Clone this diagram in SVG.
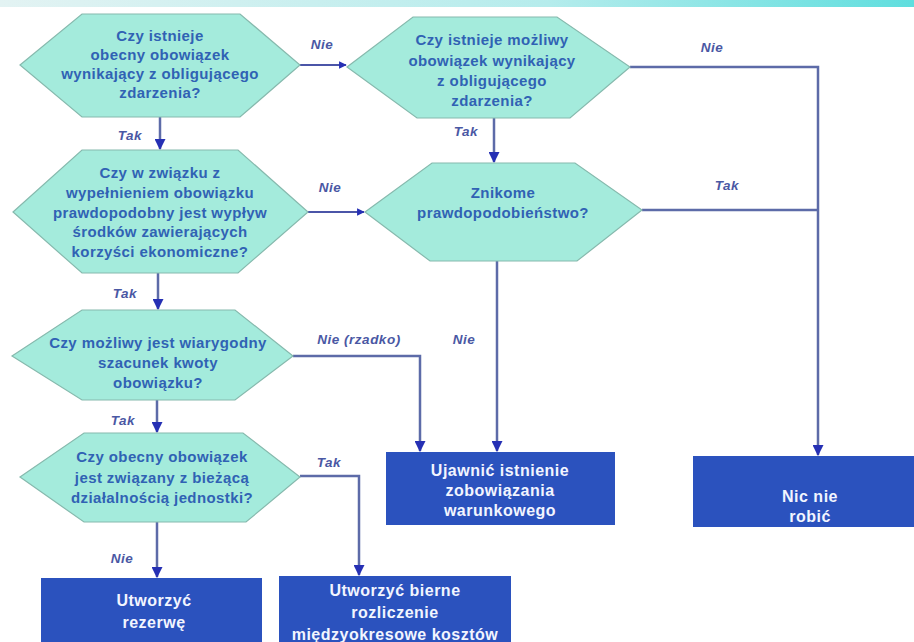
<svg xmlns="http://www.w3.org/2000/svg" width="914" height="642" viewBox="0 0 914 642">
<defs>
<linearGradient id="band" x1="0" y1="0" x2="1" y2="0">
<stop offset="0" stop-color="#e3f3f3"/>
<stop offset="0.6" stop-color="#b5ecec"/>
<stop offset="1" stop-color="#5fdede"/>
</linearGradient>
<marker id="ah" viewBox="0 0 10 10" refX="9" refY="5" markerWidth="4.4" markerHeight="4.4" orient="auto" markerUnits="strokeWidth">
<path d="M0,0 L10,5 L0,10 z" fill="#2630b4"/>
</marker>
<marker id="ahs" viewBox="0 0 10 10" refX="9" refY="5" markerWidth="3.5" markerHeight="3.5" orient="auto" markerUnits="strokeWidth">
<path d="M0,0 L10,5 L0,10 z" fill="#2630b4"/>
</marker>
</defs>
<style>
.hex{fill:#a4ebdc;stroke:#86b9ad;stroke-width:1.2}
.ht{font-family:"Liberation Sans",Arial,sans-serif;font-size:15px;font-weight:bold;fill:#3062b4;text-anchor:middle;letter-spacing:0.4px}
.box{fill:#2b52be}
.bt{font-family:"Liberation Sans",Arial,sans-serif;font-size:16px;font-weight:bold;fill:#f2f5ff;text-anchor:middle;letter-spacing:0.5px}
.lbl{font-family:"Liberation Sans",Arial,sans-serif;font-size:13.5px;font-weight:bold;font-style:italic;fill:#4a58a4;text-anchor:middle;letter-spacing:0.5px}
.c{fill:none;stroke:#5d6ba8;stroke-width:2.5}
.ca{fill:none;stroke:#5d6ba8;stroke-width:2.5;marker-end:url(#ah)}
.cs{fill:none;stroke:#4b55a8;stroke-width:2.2;marker-end:url(#ahs)}
</style>
<rect width="914" height="642" fill="#ffffff"/>
<rect x="0" y="0" width="914" height="7" fill="url(#band)"/>

<g id="connectors">
<path class="cs" d="M300,65 L346,65"/>
<path class="ca" d="M160,117 L160,149"/>
<path class="cs" d="M308,212 L364,212"/>
<path class="ca" d="M158,273 L158,309"/>
<path class="ca" d="M157,400 L157,432"/>
<path class="ca" d="M157,522 L157,577"/>
<path class="ca" d="M300,476 L359,476 L359,575"/>
<path class="ca" d="M293,356 L420,356 L420,451"/>
<path class="ca" d="M494,118 L494,162"/>
<path class="ca" d="M497,261 L497,451"/>
<path class="ca" d="M630,67 L818,67 L818,455"/>
<path class="c" d="M642,210 L818,210"/>
<text class="lbl" x="322" y="49">Nie</text>
<text class="lbl" x="130" y="140">Tak</text>
<text class="lbl" x="330" y="192">Nie</text>
<text class="lbl" x="125" y="298">Tak</text>
<text class="lbl" x="359" y="344">Nie (rzadko)</text>
<text class="lbl" x="123" y="425">Tak</text>
<text class="lbl" x="329" y="467">Tak</text>
<text class="lbl" x="122" y="563">Nie</text>
<text class="lbl" x="712" y="52">Nie</text>
<text class="lbl" x="466" y="136">Tak</text>
<text class="lbl" x="727" y="190">Tak</text>
<text class="lbl" x="464" y="344">Nie</text>
</g>

<g id="q1">
<polygon class="hex" points="20,65 82,14 240,14 300,65 240,117 82,117"/>
<text class="ht" x="160" y="41">Czy istnieje</text>
<text class="ht" x="160" y="60">obecny obowiązek</text>
<text class="ht" x="160" y="79">wynikający z obligującego</text>
<text class="ht" x="160" y="98">zdarzenia?</text>
</g>

<g id="q2">
<polygon class="hex" points="13,212 82,150 238,150 308,212 238,273 82,273"/>
<text class="ht" x="160" y="178">Czy w związku z</text>
<text class="ht" x="160" y="198">wypełnieniem obowiązku</text>
<text class="ht" x="160" y="218">prawdopodobny jest wypływ</text>
<text class="ht" x="160" y="237">środków zawierających</text>
<text class="ht" x="160" y="257">korzyści ekonomiczne?</text>
</g>

<g id="q3">
<polygon class="hex" points="12,356 82,310 235,310 293,356 235,400 82,400"/>
<text class="ht" x="158" y="348">Czy możliwy jest wiarygodny</text>
<text class="ht" x="158" y="368">szacunek kwoty</text>
<text class="ht" x="158" y="388">obowiązku?</text>
</g>

<g id="q4">
<polygon class="hex" points="20,477 84,433 243,433 300,477 246,522 84,522"/>
<text class="ht" x="162" y="462">Czy obecny obowiązek</text>
<text class="ht" x="162" y="483">jest związany z bieżącą</text>
<text class="ht" x="162" y="503">działalnością jednostki?</text>
</g>

<g id="qp">
<polygon class="hex" points="347,67 413,17 557,17 630,67 570,118 417,118"/>
<text class="ht" x="492" y="45">Czy istnieje możliwy</text>
<text class="ht" x="492" y="66">obowiązek wynikający</text>
<text class="ht" x="492" y="86">z obligującego</text>
<text class="ht" x="492" y="106">zdarzenia?</text>
</g>

<g id="qq">
<polygon class="hex" points="365,212 432,163 575,163 642,210 577,261 430,261"/>
<text class="ht" x="503" y="198">Znikome</text>
<text class="ht" x="503" y="218">prawdopodobieństwo?</text>
</g>

<g id="b-ujawnic">
<rect class="box" x="386" y="452" width="229" height="73"/>
<text class="bt" x="500" y="476">Ujawnić istnienie</text>
<text class="bt" x="500" y="496">zobowiązania</text>
<text class="bt" x="500" y="516">warunkowego</text>
</g>

<g id="b-nic">
<rect class="box" x="693" y="456" width="221" height="71"/>
<text class="bt" x="810" y="502">Nic nie</text>
<text class="bt" x="810" y="522">robić</text>
</g>

<g id="b-rezerwa">
<rect class="box" x="41" y="578" width="221" height="70"/>
<text class="bt" x="154" y="606">Utworzyć</text>
<text class="bt" x="154" y="628">rezerwę</text>
</g>

<g id="b-bierne">
<rect class="box" x="279" y="576" width="232" height="72"/>
<text class="bt" x="395" y="596">Utworzyć bierne</text>
<text class="bt" x="395" y="618">rozliczenie</text>
<text class="bt" x="395" y="640">międzyokresowe kosztów</text>
</g>
</svg>
